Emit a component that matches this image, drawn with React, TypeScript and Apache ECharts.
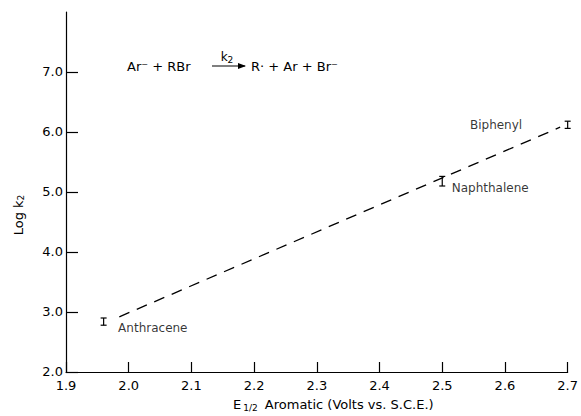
import React, { useEffect, useRef } from "react";
import * as echarts from "echarts";

const compounds = ["Anthracene", "Naphthalene", "Biphenyl"];
const halfWavePotential = [1.96, 2.5, 2.7];
const logK2 = [2.84, 5.18, 6.12];
const logK2Error = [0.06, 0.08, 0.06];
const fitLineX = [1.985, 2.688];
const fitLineY = [2.92, 6.08];
const xTicks = [1.9, 2.0, 2.1, 2.2, 2.3, 2.4, 2.5, 2.6, 2.7];
const yTicks = [2, 3, 4, 5, 6, 7];

const FONT = "DejaVu Sans";
const INK = "#000";

export default function App() {
  const ref = useRef<HTMLDivElement>(null);
  useEffect(() => {
    if (!ref.current) return;
    const chart = echarts.init(ref.current, null, { renderer: "svg" });
    const labelCfg: any[] = [
      { position: "right", distance: 14, offset: [0, 6] },
      { position: "right", distance: 9, offset: [0, 7] },
      { position: "left", distance: 45, offset: [0, 0] },
    ];
    chart.setOption({
      animation: false,
      backgroundColor: "#fff",
      grid: { left: 66, right: 13, top: 12, bottom: 44 },
      xAxis: {
        type: "value",
        min: 1.9,
        max: 2.7,
        interval: 0.1,
        axisLine: { show: true, lineStyle: { color: INK, width: 1.2 } },
        axisTick: { show: true, inside: true, length: 10, lineStyle: { color: INK, width: 1.2 } },
        axisLabel: {
          color: INK,
          fontFamily: FONT,
          fontSize: 13,
          margin: 7,
          customValues: xTicks,
          formatter: (v: number) => v.toFixed(1),
        },
        splitLine: { show: false },
      },
      yAxis: {
        type: "value",
        min: 2,
        max: 8,
        interval: 1,
        axisLine: { show: true, lineStyle: { color: INK, width: 1.2 } },
        axisTick: {
          show: true,
          inside: true,
          length: 12,
          customValues: yTicks,
          lineStyle: { color: INK, width: 1.2 },
        },
        axisLabel: {
          color: INK,
          fontFamily: FONT,
          fontSize: 13,
          margin: 3,
          customValues: yTicks,
          formatter: (v: number) => v.toFixed(1),
          verticalAlign: "bottom",
          padding: [0, 0, -6, 0],
        },
        splitLine: { show: false },
      },
      series: [
        {
          type: "line",
          data: fitLineX.map((x, i) => [x, fitLineY[i]]),
          showSymbol: false,
          lineStyle: { color: INK, width: 1.3, type: [11, 8] },
          silent: true,
        },
        {
          type: "custom",
          data: halfWavePotential.map((x, i) => [x, logK2[i], logK2Error[i]]),
          renderItem: (params: any, api: any) => {
            const x = api.value(0);
            const y = api.value(1);
            const e = api.value(2);
            const top = api.coord([x, y + e]);
            const bot = api.coord([x, y - e]);
            const w = 3;
            return {
              type: "group",
              children: [
                { type: "line", shape: { x1: top[0], y1: top[1], x2: bot[0], y2: bot[1] }, style: { stroke: INK, lineWidth: 1.2 } },
                { type: "line", shape: { x1: top[0] - w, y1: top[1], x2: top[0] + w, y2: top[1] }, style: { stroke: INK, lineWidth: 1.2 } },
                { type: "line", shape: { x1: bot[0] - w, y1: bot[1], x2: bot[0] + w, y2: bot[1] }, style: { stroke: INK, lineWidth: 1.2 } },
              ],
            };
          },
          silent: true,
        },
        {
          type: "scatter",
          symbolSize: 1,
          itemStyle: { color: "transparent" },
          data: halfWavePotential.map((x, i) => ({
            value: [x, logK2[i]],
            name: compounds[i],
            label: {
              show: true,
              formatter: compounds[i],
              color: INK,
              fontFamily: FONT,
              fontSize: 12,
              ...labelCfg[i],
            },
          })),
          silent: true,
        },
      ],
      graphic: [
        {
          type: "text",
          x: 18,
          y: 215,
          rotation: Math.PI / 2,
          style: {
            text: "Log k{s|2}",
            fill: INK,
            font: `13px ${FONT}`,
            align: "center",
            verticalAlign: "middle",
            rich: { s: { fontSize: 9, padding: [6, 0, 0, 0], fontFamily: FONT } },
          } as any,
        },
        {
          type: "text",
          x: 233,
          y: 404,
          style: {
            text: "E{s|1/2} Aromatic (Volts vs. S.C.E.)",
            fill: INK,
            font: `13px ${FONT}`,
            align: "left",
            verticalAlign: "middle",
            rich: { s: { fontSize: 9, padding: [8, 3, 0, 2], fontFamily: FONT } },
          } as any,
        },
        {
          type: "text",
          x: 127,
          y: 66,
          style: { text: "Ar\u207B + RBr", fill: INK, font: `13px ${FONT}`, verticalAlign: "middle" },
        },
        {
          type: "line",
          shape: { x1: 212, y1: 66, x2: 245, y2: 66 },
          style: { stroke: INK, lineWidth: 1.2 },
        },
        {
          type: "polygon",
          shape: { points: [[246, 66], [238, 63], [238, 69]] },
          style: { fill: INK },
        },
        {
          type: "text",
          x: 227,
          y: 57,
          style: {
            text: "k{s|2}",
            fill: INK,
            font: `12px ${FONT}`,
            align: "center",
            verticalAlign: "middle",
            rich: { s: { fontSize: 9, padding: [5, 0, 0, 0], fontFamily: FONT } },
          } as any,
        },
        {
          type: "text",
          x: 251,
          y: 66,
          style: { text: "R\u00B7 + Ar + Br\u207B", fill: INK, font: `13px ${FONT}`, verticalAlign: "middle" },
        },
      ],
    });
    return () => chart.dispose();
  }, []);
  return <div ref={ref} style={{ width: 581, height: 416, position: "absolute", left: 0, top: 0 }} />;
}
